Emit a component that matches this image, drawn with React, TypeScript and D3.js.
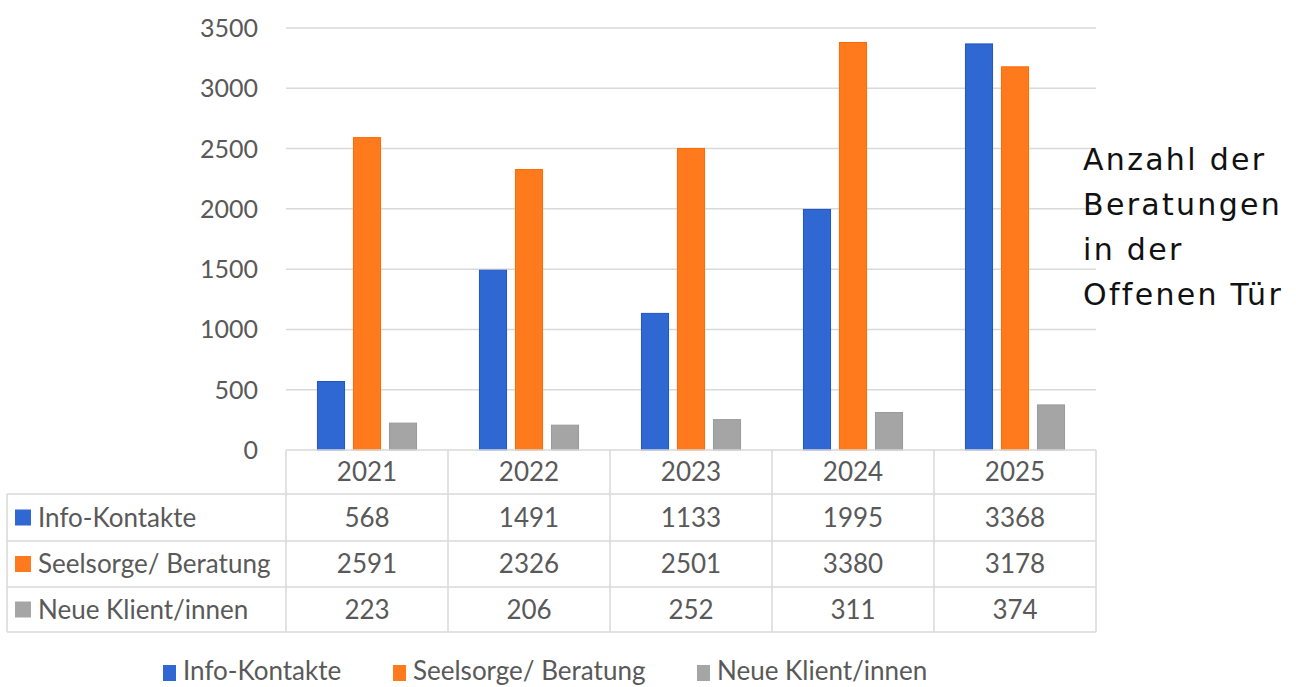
import React from "react";
import * as d3 from "d3";

const years = ["2021", "2022", "2023", "2024", "2025"];
const seriesNames = ["Info-Kontakte", "Seelsorge/ Beratung", "Neue Klient/innen"];
const infoKontakte = [568, 1491, 1133, 1995, 3368];
const seelsorge = [2591, 2326, 2501, 3380, 3178];
const neueKlienten = [223, 206, 252, 311, 374];
const seriesColors = ["#2F67D3", "#FF7A1C", "#A5A5A5"];
const seriesStroke = ["#1F55C4", "#FF6A00", "#9A9A9A"];
const yTicks = [0, 500, 1000, 1500, 2000, 2500, 3000, 3500];
const sideTitle = ["Anzahl der", "Beratungen", "in der", "Offenen Tür"];

const W = 1296;
const H = 687;
const plotLeft = 286;
const plotRight = 1096;
const plotTop = 28;
const plotBottom = 450;
const tableLeft = 7;
const rowEdges = [450, 494, 541, 587, 632];
const font = "Lato, 'Open Sans', sans-serif";
const textColor = "#595959";
const gridColor = "#D9D9D9";

export default function App() {
  const allSeries = [infoKontakte, seelsorge, neueKlienten];
  const x = d3.scaleBand<string>().domain(years).range([plotLeft, plotRight]).paddingInner(0).paddingOuter(0);
  const inner = d3
    .scaleBand<number>()
    .domain([0, 1, 2])
    .range([0, x.bandwidth()])
    .paddingInner(0.22)
    .paddingOuter(0.86);
  const y = d3.scaleLinear().domain([0, 3500]).range([plotBottom, plotTop]);

  return (
    <div style={{ position: "fixed", left: 0, top: 0, width: W, height: H, background: "#fff" }}>
      <svg width={W} height={H} style={{ display: "block" }}>
        <rect x={0} y={0} width={W} height={H} fill="#fff" />
        {/* gridlines */}
        {yTicks.filter((t) => t > 0).map((t) => (
          <line key={t} x1={plotLeft} x2={plotRight} y1={y(t)} y2={y(t)} stroke={gridColor} strokeWidth={1.5} />
        ))}
        {/* y labels */}
        {yTicks.map((t) => (
          <text
            key={t}
            x={258}
            y={y(t)}
            dy="0.36em"
            textAnchor="end"
            fontFamily={font}
            fontSize={25}
            fill={textColor}
          >
            {t}
          </text>
        ))}
        {/* bars */}
        {years.map((yr, i) => (
          <g key={yr} transform={`translate(${x(yr)},0)`}>
            {allSeries.map((s, k) => (
              <rect
                key={k}
                x={inner(k)! + 0.5}
                y={y(s[i])}
                width={inner.bandwidth() - 1}
                height={plotBottom - y(s[i])}
                fill={seriesColors[k]}
                stroke={seriesStroke[k]}
                strokeWidth={1}
              />
            ))}
          </g>
        ))}
        {/* table */}
        <g stroke={gridColor} strokeWidth={1.5} fill="none">
          <line x1={plotLeft} x2={plotRight} y1={rowEdges[0]} y2={rowEdges[0]} />
          {rowEdges.slice(1).map((r) => (
            <line key={r} x1={tableLeft} x2={plotRight} y1={r} y2={r} />
          ))}
          <line x1={tableLeft} x2={tableLeft} y1={rowEdges[1]} y2={rowEdges[4]} />
          {years.map((yr) => (
            <line key={yr} x1={x(yr)} x2={x(yr)} y1={rowEdges[0]} y2={rowEdges[4]} />
          ))}
          <line x1={plotRight} x2={plotRight} y1={rowEdges[0]} y2={rowEdges[4]} />
        </g>
        {years.map((yr) => (
          <text
            key={yr}
            x={x(yr)! + x.bandwidth() / 2}
            y={(rowEdges[0] + rowEdges[1]) / 2}
            dy="0.36em"
            textAnchor="middle"
            fontFamily={font}
            fontSize={26}
            fill={textColor}
          >
            {yr}
          </text>
        ))}
        {allSeries.map((s, k) => {
          const cy = (rowEdges[k + 1] + rowEdges[k + 2]) / 2;
          return (
            <g key={k}>
              <rect x={15} y={cy - 8} width={16} height={16} fill={seriesColors[k]} />
              <text x={38} y={cy} dy="0.36em" fontFamily={font} fontSize={26} fill={textColor}>
                {seriesNames[k]}
              </text>
              {years.map((yr, i) => (
                <text
                  key={yr}
                  x={x(yr)! + x.bandwidth() / 2}
                  y={cy}
                  dy="0.36em"
                  textAnchor="middle"
                  fontFamily={font}
                  fontSize={26}
                  fill={textColor}
                >
                  {s[i]}
                </text>
              ))}
            </g>
          );
        })}
        {/* bottom legend */}
        {seriesNames.map((n, k) => {
          const lx = [163, 393, 697][k];
          return (
            <g key={n}>
              <rect x={lx} y={665} width={13} height={16} fill={seriesColors[k]} />
              <text x={lx + 20} y={671} dy="0.36em" fontFamily={font} fontSize={26} fill={textColor}>
                {n}
              </text>
            </g>
          );
        })}
        {/* side title */}
        {sideTitle.map((line, i) => (
          <text
            key={line}
            x={1083}
            y={170 + i * 45}
            fontFamily="'DejaVu Sans', sans-serif"
            fontSize={30}
            letterSpacing={2.3}
            fill="#111"
          >
            {line}
          </text>
        ))}
      </svg>
    </div>
  );
}
